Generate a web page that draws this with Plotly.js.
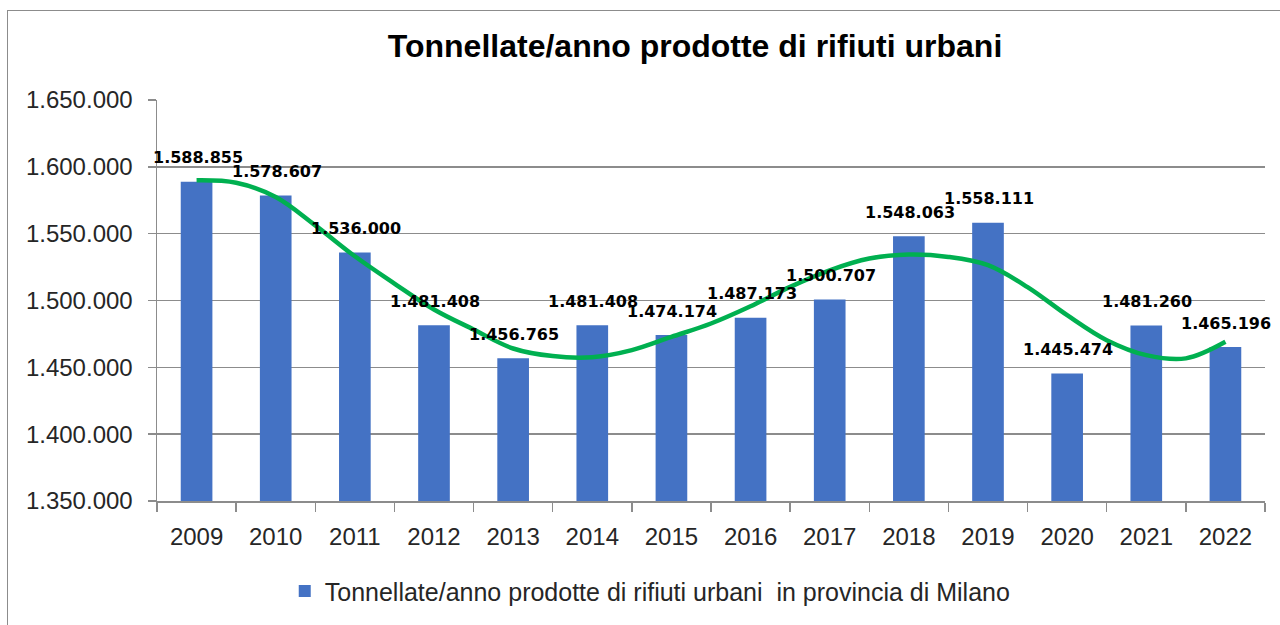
<!DOCTYPE html>
<html>
<head>
<meta charset="utf-8">
<script src="https://cdn.plot.ly/plotly-3.0.1.min.js"></script>
<style>
  html, body { margin: 0; padding: 0; background: #fff; overflow: hidden; }
  #chart { position: absolute; left: 0; top: 0; width: 1280px; height: 625px; }
  #frame { position: absolute; left: 7px; top: 10px; width: 1400px; height: 700px;
           border: 1.5px solid #8c8c8c; pointer-events: none; }
</style>
</head>
<body>
<div id="chart"></div>
<div id="frame"></div>
<script>
// ---- data ----
const years = [2009, 2010, 2011, 2012, 2013, 2014, 2015, 2016, 2017, 2018, 2019, 2020, 2021, 2022];
const tonnes = [1588855, 1578607, 1536000, 1481408, 1456765, 1481408, 1474174, 1487173, 1500707, 1548063, 1558111, 1445474, 1481260, 1465196];
// trend line (polynomial trendline in the original) at half-year steps
const trendX = [2009, 2009.5, 2010, 2010.5, 2011, 2011.5, 2012, 2012.5, 2013, 2013.5, 2014, 2014.5, 2015, 2015.5,
                2016, 2016.5, 2017, 2017.5, 2018, 2018.5, 2019, 2019.5, 2020, 2020.5, 2021, 2021.5, 2022];
const trendY = [1589900, 1588100, 1577400, 1556200, 1533100, 1512700, 1493300, 1478300, 1464100, 1458400, 1457600, 1462900, 1472800, 1482800,
                1495700, 1510200, 1522600, 1531400, 1534400, 1532600, 1526400, 1510000, 1489000, 1470300, 1459100, 1456700, 1469100];
const seriesName = 'Tonnellate/anno prodotte di rifiuti urbani  in provincia di Milano';
const chartTitle = 'Tonnellate/anno prodotte di rifiuti urbani';

function fmt(v) { return String(v).replace(/\B(?=(\d{3})+(?!\d))/g, '.'); }

const bars = {
  type: 'bar', x: years, y: tonnes, name: seriesName, width: 0.4,
  marker: { color: '#4472C4' }, hoverinfo: 'x+y'
};
const trend = {
  type: 'scatter', mode: 'lines', x: trendX, y: trendY,
  line: { color: '#00B050', width: 4.5, shape: 'spline', smoothing: 1 },
  showlegend: false, hoverinfo: 'skip'
};

const annotations = years.map((yr, i) => ({
  x: yr, y: tonnes[i], xref: 'x', yref: 'y', text: fmt(tonnes[i]),
  showarrow: false, yshift: 24, xshift: 1, yanchor: 'middle', xanchor: 'center',
  font: { family: 'DejaVu Sans, sans-serif', size: 16, color: '#000', weight: 'bold' }
}));

const layout = {
  width: 1280, height: 625,
  margin: { l: 157, r: 15, t: 100, b: 124 },
  paper_bgcolor: '#fff', plot_bgcolor: '#fff',
  separators: ',.',
  title: {
    text: '<b>' + chartTitle + '</b>',
    xref: 'container', yref: 'container', x: 0.543, y: 0.926, xanchor: 'center', yanchor: 'middle',
    font: { family: 'Liberation Sans, Arial, sans-serif', size: 32, color: '#000' }
  },
  xaxis: {
    type: 'linear', range: [2008.5, 2022.5],
    tickmode: 'array', tickvals: years, ticktext: years.map(String), ticks: '',
    minor: { tick0: 2008.5, dtick: 1, ticks: 'outside', ticklen: 9, tickcolor: '#8c8c8c', tickwidth: 1.5, showgrid: false },
    showline: true, linecolor: '#8c8c8c', linewidth: 1.5, showgrid: false, zeroline: false,
    tickfont: { family: 'Liberation Sans, Arial, sans-serif', size: 24, color: '#262626' },
    ticklabelstandoff: 14, fixedrange: true
  },
  yaxis: {
    range: [1350000, 1650000], dtick: 50000, tick0: 1350000, tickformat: ',d',
    ticks: 'outside', ticklen: 8, tickcolor: '#8c8c8c', tickwidth: 1.5,
    showline: true, linecolor: '#8c8c8c', linewidth: 1.5,
    showgrid: true, gridcolor: '#8c8c8c', gridwidth: 1.5, zeroline: false,
    tickfont: { family: 'Liberation Sans, Arial, sans-serif', size: 24, color: '#262626' },
    ticklabelstandoff: 10, fixedrange: true
  },
  showlegend: true,
  legend: {
    orientation: 'h', xref: 'container', yref: 'container', x: 0.508, y: 0.054,
    xanchor: 'center', yanchor: 'middle',
    font: { family: 'Liberation Sans, Arial, sans-serif', size: 25, color: '#262626' }
  },
  annotations: annotations
};

Plotly.newPlot('chart', [bars, trend], layout, { displayModeBar: false, staticPlot: true });
</script>
</body>
</html>
